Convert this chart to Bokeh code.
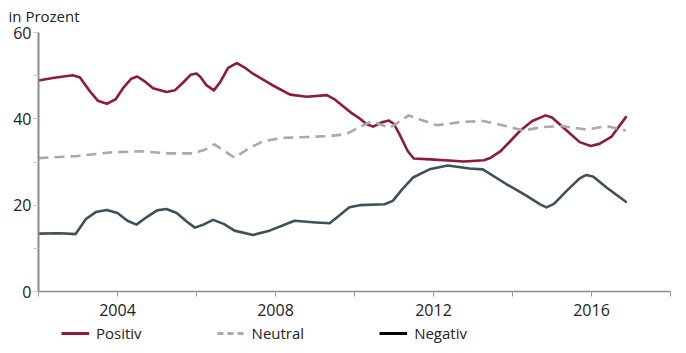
from bokeh.plotting import figure
from bokeh.models import FixedTicker, Legend, LegendItem
from bokeh.layouts import column
from bokeh.embed import file_html
from bokeh.resources import INLINE

# ---- data ----
pos_x = [2002.0, 2002.4, 2002.87, 2003.05, 2003.3, 2003.5, 2003.73, 2003.95, 2004.14, 2004.35, 2004.5,
         2004.7, 2004.9, 2005.24, 2005.45, 2005.65, 2005.85, 2006.0, 2006.1, 2006.25, 2006.44, 2006.6,
         2006.8, 2007.02, 2007.2, 2007.44, 2007.9, 2008.37, 2008.79, 2009.3, 2009.5, 2009.9, 2010.1,
         2010.3, 2010.47, 2010.7, 2010.87, 2011.0, 2011.14, 2011.35, 2011.5, 2011.92, 2012.77, 2013.28,
         2013.45, 2013.7, 2014.2, 2014.5, 2014.84, 2015.0, 2015.37, 2015.7, 2015.98, 2016.2, 2016.5, 2016.87]
positiv = [48.9, 49.5, 50.1, 49.6, 46.4, 44.2, 43.5, 44.5, 47.1, 49.3, 49.8,
           48.6, 47.1, 46.2, 46.6, 48.3, 50.2, 50.5, 49.7, 47.8, 46.6, 48.5,
           51.8, 52.9, 52.0, 50.4, 47.9, 45.6, 45.1, 45.5, 44.5, 41.5, 40.3,
           38.8, 38.2, 39.2, 39.6, 38.8, 36.4, 32.5, 30.8, 30.6, 30.1, 30.4,
           31.0, 32.5, 37.3, 39.5, 40.8, 40.3, 37.3, 34.6, 33.7, 34.2, 35.8, 40.4]

neu_x = [2002.0, 2003.0, 2003.8, 2004.56, 2005.3, 2005.9, 2006.2, 2006.45, 2006.7, 2006.96, 2007.3,
         2007.68, 2008.2, 2008.8, 2009.37, 2009.8, 2010.13, 2010.43, 2010.9, 2011.37, 2012.08,
         2012.75, 2013.26, 2013.85, 2014.27, 2014.77, 2015.28, 2015.87, 2016.38, 2016.87]
neutral = [30.9, 31.4, 32.2, 32.5, 32.0, 32.0, 32.8, 34.1, 32.6, 31.0, 33.0,
           34.8, 35.6, 35.8, 36.0, 36.5, 38.1, 39.4, 37.9, 40.8, 38.5,
           39.3, 39.5, 38.3, 37.3, 38.1, 38.3, 37.5, 38.3, 37.3]

neg_x = [2002.0, 2002.56, 2002.94, 2003.2, 2003.45, 2003.73, 2004.0, 2004.25, 2004.48, 2004.75, 2005.0,
         2005.24, 2005.5, 2005.75, 2005.96, 2006.2, 2006.42, 2006.7, 2006.96, 2007.43, 2007.85,
         2008.48, 2009.03, 2009.37, 2009.6, 2009.87, 2010.13, 2010.76, 2010.97, 2011.2, 2011.48,
         2011.9, 2012.36, 2012.91, 2013.25, 2013.84, 2014.35, 2014.7, 2014.86, 2015.05, 2015.37,
         2015.7, 2015.87, 2016.05, 2016.38, 2016.87]
negativ = [13.4, 13.5, 13.3, 16.8, 18.4, 18.9, 18.2, 16.4, 15.5, 17.3, 18.8,
           19.1, 18.2, 16.2, 14.8, 15.6, 16.6, 15.6, 14.1, 13.1, 14.1,
           16.4, 16.0, 15.8, 17.5, 19.5, 20.0, 20.2, 21.0, 23.6, 26.4,
           28.3, 29.2, 28.5, 28.3, 24.9, 22.2, 20.2, 19.5, 20.3, 23.3,
           26.2, 27.0, 26.6, 24.1, 20.8]

x_ticks = [2002, 2004, 2006, 2008, 2010, 2012, 2014, 2016, 2018]
x_labels = {2002: "", 2004: "2004", 2006: "", 2008: "2008", 2010: "",
            2012: "2012", 2014: "", 2016: "2016", 2018: ""}
y_ticks = [0, 10, 20, 30, 40, 50, 60]
y_labels = {0: "0", 10: "", 20: "20", 30: "", 40: "40", 50: "", 60: "60"}

labels = ["Positiv", "Neutral", "Negativ"]
unit_title = "in Prozent"

FONT = "Open Sans"
TXT = "#222222"
C_POS = "#8C1B3C"
C_NEU = "#AAAAAA"
C_NEG = "#3F505C"

MAIN_H = 322
LEG_H = 353 - MAIN_H

# ---- main chart ----
p = figure(width=686, height=MAIN_H, x_range=(2002, 2018), y_range=(0, 60),
           output_backend="svg", toolbar_location=None,
           min_border_left=38, min_border_right=16, min_border_top=31, min_border_bottom=31)
p.outline_line_color = None
p.grid.visible = False
p.background_fill_color = "white"

p.line(pos_x, positiv, line_color=C_POS, line_width=2.6, line_join="round", line_cap="round")
p.line(neu_x, neutral, line_color=C_NEU, line_width=2.6, line_dash="10 6", line_join="round")
p.line(neg_x, negativ, line_color=C_NEG, line_width=2.6, line_join="round", line_cap="round")

xa = p.xaxis[0]
xa.ticker = FixedTicker(ticks=x_ticks)
xa.major_label_overrides = {k: v for k, v in x_labels.items()}
xa.axis_line_color = "#8a8a8a"
xa.axis_line_width = 1.5
xa.major_tick_line_color = "#9a9a9a"
xa.major_tick_in = 0
xa.major_tick_out = 5
xa.minor_tick_line_color = None
xa.major_label_standoff = 7
xa.major_label_text_font = FONT
xa.major_label_text_font_size = "16px"
xa.major_label_text_color = TXT

ya = p.yaxis[0]
ya.ticker = FixedTicker(ticks=y_ticks)
ya.major_label_overrides = {k: v for k, v in y_labels.items()}
ya.axis_line_color = "#8a8a8a"
ya.axis_line_width = 2
ya.major_tick_line_color = "#c8c8c8"
ya.major_tick_in = 0
ya.major_tick_out = 5
ya.minor_tick_line_color = None
ya.major_label_standoff = 2
ya.major_label_text_font = FONT
ya.major_label_text_font_size = "16px"
ya.major_label_text_color = TXT

p.title.text = unit_title
p.title.text_font = FONT
p.title.text_font_size = "15px"
p.title.text_font_style = "normal"
p.title.text_color = TXT
p.title.align = "left"
p.title.vertical_align = "top"
p.title.offset = -30

# ---- legend strip ----
nan = float("nan")
lg = figure(width=686, height=LEG_H, x_range=(0, 1), y_range=(0, 1),
            output_backend="svg", toolbar_location=None,
            min_border_left=0, min_border_right=0, min_border_top=0, min_border_bottom=0)
lg.axis.visible = False
lg.grid.visible = False
lg.outline_line_color = None
l_pos = lg.line([nan], [nan], line_color=C_POS, line_width=3)
l_neu = lg.line([nan], [nan], line_color=C_NEU, line_width=3, line_dash="6 4")
l_neg = lg.line([nan], [nan], line_color="#000000", line_width=3)

legend = Legend(items=[LegendItem(label=labels[0], renderers=[l_pos]),
                       LegendItem(label=labels[1], renderers=[l_neu]),
                       LegendItem(label=labels[2], renderers=[l_neg])],
                orientation="horizontal", location=(23, 10),
                border_line_color=None, background_fill_alpha=0,
                label_text_font=FONT, label_text_font_size="15px", label_text_color=TXT,
                glyph_width=28, glyph_height=14, label_standoff=7, spacing=75,
                padding=0, margin=0)
lg.add_layout(legend, "center")

layout = column(p, lg, spacing=0)
open("out.html", "w").write(file_html(layout, INLINE))
